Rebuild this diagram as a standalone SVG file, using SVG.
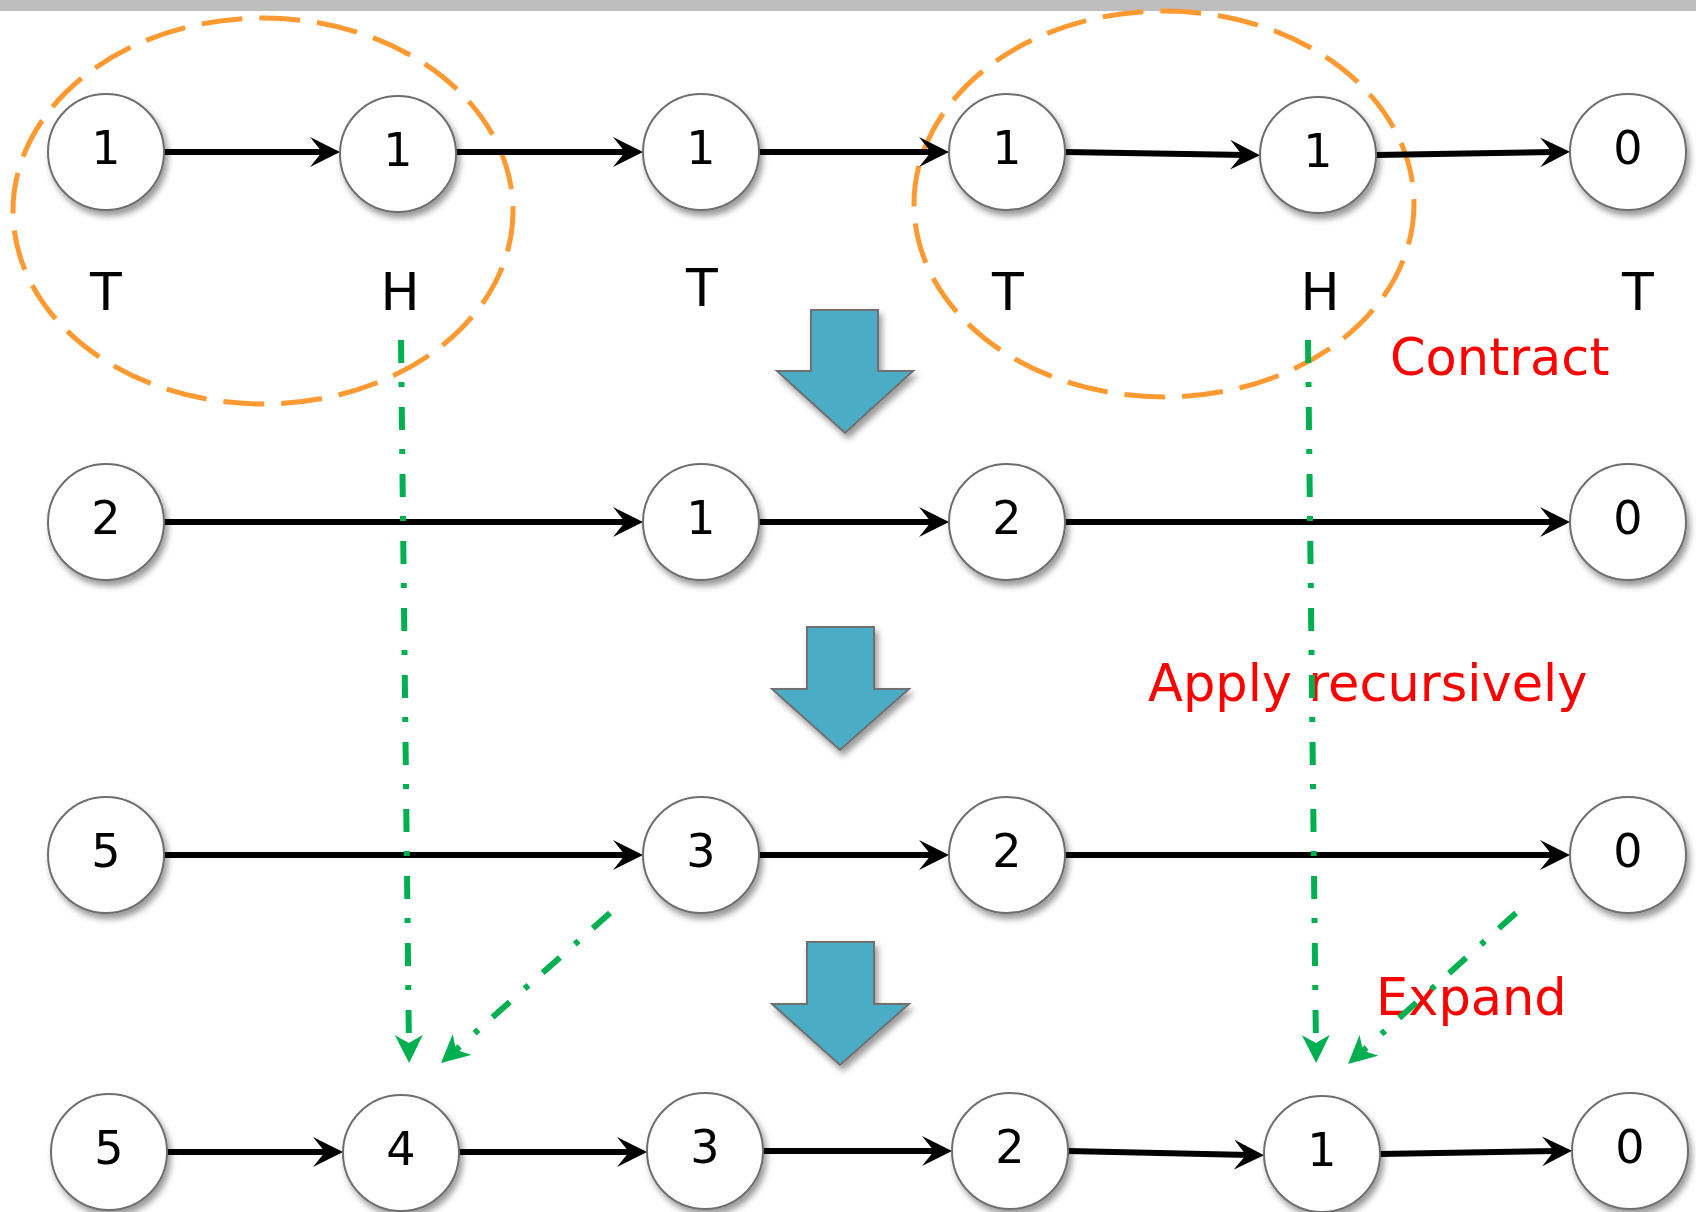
<svg xmlns="http://www.w3.org/2000/svg" width="1696" height="1212" viewBox="0 0 1696 1212">
  <style>
    .node circle { fill: #ffffff; stroke: #6e6e6e; stroke-width: 2; }
    .node text { font-family: "DejaVu Sans", "Liberation Sans", sans-serif; font-size: 46px; fill: #000000; text-anchor: middle; }
    .tag { font-family: "DejaVu Sans", "Liberation Sans", sans-serif; font-size: 52px; fill: #000000; text-anchor: middle; }
    .note { font-family: "DejaVu Sans", "Liberation Sans", sans-serif; font-size: 51px; fill: #ff0000; }
    .edge { fill: none; stroke: #000000; stroke-width: 6; marker-end: url(#arrow); }
    .map { fill: none; stroke: #00b050; stroke-width: 6; stroke-dasharray: 23 19 5 20; marker-end: url(#garrow); }
    .group { fill: none; stroke: #ff9a33; stroke-width: 5; stroke-dasharray: 41 17; }
    .step { fill: #4bacc6; stroke: #6f6f6f; stroke-width: 2; }
  </style>
  <defs>
    <filter id="shadow" x="-30%" y="-30%" width="160%" height="160%">
      <feDropShadow dx="3" dy="5" stdDeviation="3" flood-color="#000000" flood-opacity="0.4"/>
    </filter>
    <marker id="arrow" markerUnits="userSpaceOnUse" viewBox="0 0 30 30" markerWidth="30" markerHeight="30" refX="16" refY="15" orient="auto">
      <path d="M30,15 L0,0 L12,15 L0,30 Z" fill="#000000"/>
    </marker>
    <marker id="garrow" markerUnits="userSpaceOnUse" viewBox="0 0 28 28" markerWidth="28" markerHeight="28" refX="16" refY="14" orient="auto">
      <path d="M28,14 L0,0 L8,14 L0,28 Z" fill="#00b050"/>
    </marker>
  </defs>

  <rect x="0" y="0" width="1696" height="11" fill="#bebebe"/>

  <!-- contracted pairs -->
  <g id="pairs">
    <ellipse class="group" cx="263" cy="211" rx="250" ry="193"/>
    <ellipse class="group" cx="1164" cy="204" rx="250" ry="193"/>
  </g>

  <!-- list links -->
  <g id="connectors">
    <path class="edge" d="M164,152 L326,152"/>
    <path class="edge" d="M456,152 L629,152"/>
    <path class="edge" d="M759,152 L935,152"/>
    <path class="edge" d="M1065,152 L1246,155"/>
    <path class="edge" d="M1376,155 L1556,152"/>

    <path class="edge" d="M164,522 L629,522"/>
    <path class="edge" d="M759,522 L935,522"/>
    <path class="edge" d="M1065,522 L1556,522"/>

    <path class="edge" d="M164,855 L629,855"/>
    <path class="edge" d="M759,855 L935,855"/>
    <path class="edge" d="M1065,855 L1556,855"/>

    <path class="edge" d="M167,1152 L329,1152"/>
    <path class="edge" d="M459,1152 L633,1152"/>
    <path class="edge" d="M763,1151 L938,1151"/>
    <path class="edge" d="M1068,1151 L1250,1155"/>
    <path class="edge" d="M1380,1154 L1558,1151"/>
  </g>

  <!-- row 1 -->
  <g id="r1n1" class="node" filter="url(#shadow)"><circle cx="106" cy="152" r="58"/><text x="106" y="164">1</text></g>
  <g id="r1n2" class="node" filter="url(#shadow)"><circle cx="398" cy="154" r="58"/><text x="398" y="166">1</text></g>
  <g id="r1n3" class="node" filter="url(#shadow)"><circle cx="701" cy="152" r="58"/><text x="701" y="164">1</text></g>
  <g id="r1n4" class="node" filter="url(#shadow)"><circle cx="1007" cy="152" r="58"/><text x="1007" y="164">1</text></g>
  <g id="r1n5" class="node" filter="url(#shadow)"><circle cx="1318" cy="155" r="58"/><text x="1318" y="167">1</text></g>
  <g id="r1n6" class="node" filter="url(#shadow)"><circle cx="1628" cy="152" r="58"/><text x="1628" y="164">0</text></g>

  <g id="coins">
    <text class="tag" x="106" y="310">T</text>
    <text class="tag" x="400" y="310">H</text>
    <text class="tag" x="702" y="306">T</text>
    <text class="tag" x="1008" y="310">T</text>
    <text class="tag" x="1320" y="310">H</text>
    <text class="tag" x="1638" y="310">T</text>
  </g>

  <!-- row 2 -->
  <g id="r2n1" class="node" filter="url(#shadow)"><circle cx="106" cy="522" r="58"/><text x="106" y="534">2</text></g>
  <g id="r2n2" class="node" filter="url(#shadow)"><circle cx="701" cy="522" r="58"/><text x="701" y="534">1</text></g>
  <g id="r2n3" class="node" filter="url(#shadow)"><circle cx="1007" cy="522" r="58"/><text x="1007" y="534">2</text></g>
  <g id="r2n4" class="node" filter="url(#shadow)"><circle cx="1628" cy="522" r="58"/><text x="1628" y="534">0</text></g>

  <!-- row 3 -->
  <g id="r3n1" class="node" filter="url(#shadow)"><circle cx="106" cy="855" r="58"/><text x="106" y="867">5</text></g>
  <g id="r3n2" class="node" filter="url(#shadow)"><circle cx="701" cy="855" r="58"/><text x="701" y="867">3</text></g>
  <g id="r3n3" class="node" filter="url(#shadow)"><circle cx="1007" cy="855" r="58"/><text x="1007" y="867">2</text></g>
  <g id="r3n4" class="node" filter="url(#shadow)"><circle cx="1628" cy="855" r="58"/><text x="1628" y="867">0</text></g>

  <!-- row 4 -->
  <g id="r4n1" class="node" filter="url(#shadow)"><circle cx="109" cy="1152" r="58"/><text x="109" y="1164">5</text></g>
  <g id="r4n2" class="node" filter="url(#shadow)"><circle cx="401" cy="1153" r="58"/><text x="401" y="1165">4</text></g>
  <g id="r4n3" class="node" filter="url(#shadow)"><circle cx="705" cy="1151" r="58"/><text x="705" y="1163">3</text></g>
  <g id="r4n4" class="node" filter="url(#shadow)"><circle cx="1010" cy="1151" r="58"/><text x="1010" y="1163">2</text></g>
  <g id="r4n5" class="node" filter="url(#shadow)"><circle cx="1322" cy="1154" r="58"/><text x="1322" y="1166">1</text></g>
  <g id="r4n6" class="node" filter="url(#shadow)"><circle cx="1630" cy="1151" r="58"/><text x="1630" y="1163">0</text></g>

  <!-- step arrows -->
  <g id="steps" filter="url(#shadow)">
    <path class="step" d="M811,310 H878 V371 H913 L845,433 L777,371 H811 Z"/>
    <path class="step" d="M807,627 H874 V689 H909 L840,750 L772,689 H807 Z"/>
    <path class="step" d="M807,942 H874 V1004 H909 L840,1065 L772,1004 H807 Z"/>
  </g>

  <g id="notes">
    <text class="note" x="1390" y="375">Contract</text>
    <text class="note" x="1148" y="701">Apply recursively</text>
    <text class="note" x="1376" y="1015">Expand</text>
  </g>

  <!-- expansion mapping -->
  <g id="mapping">
    <path class="map" d="M401,340 L409,1051"/>
    <path class="map" d="M610,913 L450,1055"/>
    <path class="map" d="M1308,340 L1316,1051"/>
    <path class="map" d="M1516,913 L1357,1056"/>
  </g>
</svg>
